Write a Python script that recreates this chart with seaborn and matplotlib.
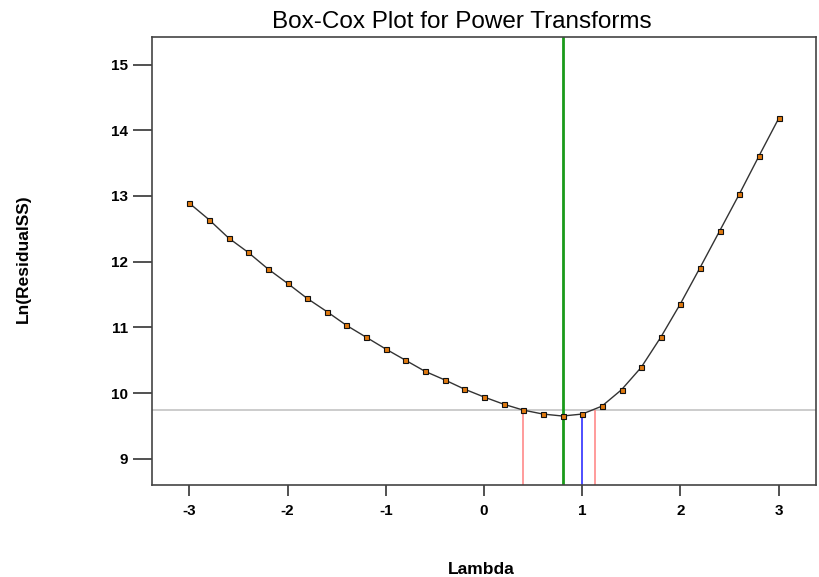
import matplotlib
matplotlib.use("Agg")
import matplotlib.pyplot as plt
import seaborn as sns
import numpy as np
import pandas as pd

# Data
lambdas = [-3.0, -2.8, -2.6, -2.4, -2.2, -2.0, -1.8, -1.6, -1.4, -1.2, -1.0,
           -0.8, -0.6, -0.4, -0.2, 0.0, 0.2, 0.4, 0.6, 0.8, 1.0,
           1.2, 1.4, 1.6, 1.8, 2.0, 2.2, 2.4, 2.6, 2.8, 3.0]
ln_resid_ss = [12.89, 12.64, 12.36, 12.14, 11.89, 11.67, 11.44, 11.24, 11.03, 10.85, 10.67,
               10.50, 10.33, 10.20, 10.06, 9.94, 9.83, 9.74, 9.68, 9.65, 9.68,
               9.80, 10.05, 10.39, 10.85, 11.36, 11.91, 12.47, 13.03, 13.61, 14.18]
best_lambda = 0.805
ci_low = 0.395
ci_high = 1.125
current_lambda = 1.0
current_value = 9.68
ci_threshold = 9.746
x_ticks = [-3, -2, -1, 0, 1, 2, 3]
y_ticks = [9, 10, 11, 12, 13, 14, 15]

sns.set_theme(style="white")
plt.rcParams['font.family'] = ['Liberation Sans', 'DejaVu Sans']
plt.rcParams['text.color'] = 'black'
plt.rcParams['xtick.color'] = 'black'
plt.rcParams['ytick.color'] = 'black'

df = pd.DataFrame({"Lambda": lambdas, "LnRSS": ln_resid_ss})

fig = plt.figure(figsize=(8.2, 5.77), dpi=100)
ax = fig.add_axes([152/820, 1-485/577, (816-152)/820, (485-37)/577])

ylim = (8.60, 15.42)
xlim = (-3.38, 3.38)

# Reference lines
ax.axhline(ci_threshold, color="#c4c4c4", lw=1.2, zorder=1)
ax.axvline(best_lambda, color="#1a9a1a", lw=2.0, zorder=2)
ax.vlines([ci_low, ci_high], ylim[0], ci_threshold, color="#ff8a8a", lw=1.2, zorder=2)
ax.vlines([current_lambda], ylim[0], current_value, color="#3030ff", lw=1.2, zorder=2)

sns.lineplot(data=df, x="Lambda", y="LnRSS", ax=ax, color="#333333", lw=1.0,
             marker="s", markersize=3.6, markerfacecolor="#e07a10",
             markeredgecolor="#111111", markeredgewidth=0.8, zorder=3)

ax.set_xlim(*xlim)
ax.set_ylim(*ylim)
ax.set_xticks(x_ticks)
ax.set_yticks(y_ticks)
ax.set_xticklabels([str(t) for t in x_ticks], fontsize=11, fontweight="bold", color="black")
ax.set_yticklabels([str(t) for t in y_ticks], fontsize=11, fontweight="bold", color="black")
ax.tick_params(axis="y", direction="out", length=13.5, width=1.2, color="#333333", pad=4, left=True)
ax.tick_params(axis="x", direction="out", length=8, width=1.2, color="#333333", pad=6, bottom=True)
for s in ax.spines.values():
    s.set_color("#444444")
    s.set_linewidth(1.2)
ax.set_xlabel("")
ax.set_ylabel("")

fig.text(462/820, 1-22/577, "Box-Cox Plot for Power Transforms", ha="center", va="center",
         fontsize=17.5, color="black")
fig.text(23/820, 1-259/577, "Ln(ResidualSS)", rotation=90, ha="center", va="center",
         fontsize=12.5, fontweight="bold", color="black")
fig.text(481/820, 1-569/577, "Lambda", ha="center", va="center",
         fontsize=12.5, fontweight="bold", color="black")

fig.savefig("out.png", dpi=100)
